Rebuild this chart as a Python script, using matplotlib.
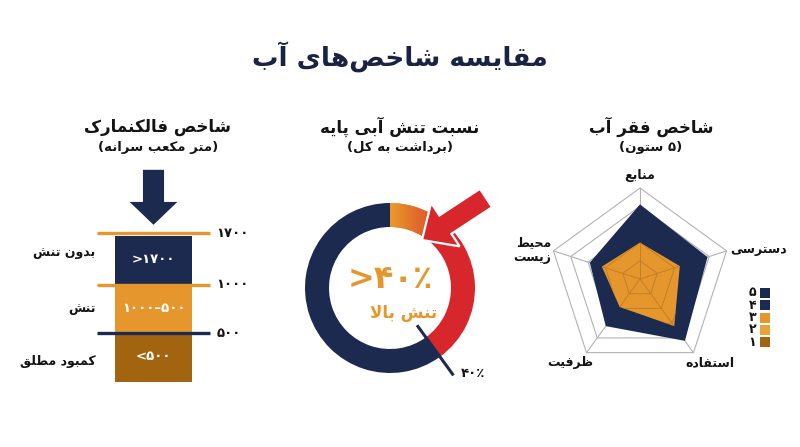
import numpy as np
import matplotlib
matplotlib.use('Agg')
import matplotlib.pyplot as plt
from matplotlib.patches import Polygon, FancyArrow
from matplotlib.colors import LinearSegmentedColormap

plt.rcParams['font.family'] = ['DejaVu Sans']

# ---------------- data ----------------
main_title = 'مقایسه شاخص‌های آب'

falk_title = 'شاخص فالکنمارک'
falk_sub = '(متر مکعب سرانه)'
falk_categories = ['کمبود مطلق', 'تنش', 'بدون تنش']      # bottom -> top
falk_ranges = ['<۵۰۰', '۱۰۰۰–۵۰۰', '>۱۷۰۰']
falk_thresholds = ['۵۰۰', '۱۰۰۰', '۱۷۰۰']

stress_title = 'نسبت تنش آبی پایه'
stress_sub = '(برداشت به کل)'
stress_shares = [9, 31, 60]          # orange, red, navy (percent of ring)
stress_big = '>۴۰٪'
stress_label = 'تنش بالا'
stress_mark = '۴۰٪'

pov_title = 'شاخص فقر آب'
pov_sub = '(۵ ستون)'
pov_axes = ['منابع', 'دسترسی', 'استفاده', 'ظرفیت', 'محیط\nزیست']
pov_outer = [4.1, 3.9, 4.2, 3.2, 2.9]
pov_inner = [2.0, 2.3, 3.2, 1.9, 2.2]
pov_levels = [1, 2, 3, 4, 5]
legend_labels = ['۵', '۴', '۳', '۲', '۱']

# colours
NAVY = '#1d2a4f'
ORANGE = '#e5972e'
BROWN = '#a3640f'
RED = '#d7262c'
INK = '#141414'
falk_colors = [BROWN, ORANGE, NAVY]
falk_line_colors = [NAVY, ORANGE, ORANGE]
legend_colors = [NAVY, NAVY, ORANGE, '#e9a13a', BROWN]

# ---------------- persian shaping (no raqm in mpl 3.10) ----------------
FORMS = {
    'ا': ('\uFE8D', '\uFE8E', None, None),
    'آ': ('\uFE81', '\uFE82', None, None),
    'ب': ('\uFE8F', '\uFE90', '\uFE91', '\uFE92'),
    'پ': ('\uFB56', '\uFB57', '\uFB58', '\uFB59'),
    'ت': ('\uFE95', '\uFE96', '\uFE97', '\uFE98'),
    'ح': ('\uFEA1', '\uFEA2', '\uFEA3', '\uFEA4'),
    'خ': ('\uFEA5', '\uFEA6', '\uFEA7', '\uFEA8'),
    'د': ('\uFEA9', '\uFEAA', None, None),
    'ر': ('\uFEAD', '\uFEAE', None, None),
    'ز': ('\uFEAF', '\uFEB0', None, None),
    'س': ('\uFEB1', '\uFEB2', '\uFEB3', '\uFEB4'),
    'ش': ('\uFEB5', '\uFEB6', '\uFEB7', '\uFEB8'),
    'ص': ('\uFEB9', '\uFEBA', '\uFEBB', '\uFEBC'),
    'ط': ('\uFEC1', '\uFEC2', '\uFEC3', '\uFEC4'),
    'ظ': ('\uFEC5', '\uFEC6', '\uFEC7', '\uFEC8'),
    'ع': ('\uFEC9', '\uFECA', '\uFECB', '\uFECC'),
    'ف': ('\uFED1', '\uFED2', '\uFED3', '\uFED4'),
    'ق': ('\uFED5', '\uFED6', '\uFED7', '\uFED8'),
    'ک': ('\uFB8E', '\uFB8F', '\uFB90', '\uFB91'),
    'ل': ('\uFEDD', '\uFEDE', '\uFEDF', '\uFEE0'),
    'م': ('\uFEE1', '\uFEE2', '\uFEE3', '\uFEE4'),
    'ن': ('\uFEE5', '\uFEE6', '\uFEE7', '\uFEE8'),
    'ه': ('\uFEE9', '\uFEEA', '\uFEEB', '\uFEEC'),
    'و': ('\uFEED', '\uFEEE', None, None),
    'ی': ('\uFBFC', '\uFBFD', '\uFBFE', '\uFBFF'),
}


def joins_next(ch):
    return ch in FORMS and FORMS[ch][2] is not None


def shape_line(line):
    out = []
    i = 0
    n = len(line)
    while i < n:
        ch = line[i]
        prev = line[i - 1] if i > 0 else ''
        nxt = line[i + 1] if i + 1 < n else ''
        if ch == '\u200c':
            i += 1
            continue
        if ch not in FORMS:
            out.append(ch)
            i += 1
            continue
        jp = joins_next(prev)
        if ch == 'ل' and nxt == 'ا':
            out.append('\uFEFC' if jp else '\uFEFB')
            i += 2
            continue
        jn = joins_next(ch) and nxt in FORMS
        iso, fin, ini, med = FORMS[ch]
        if jp and jn:
            out.append(med)
        elif jp:
            out.append(fin)
        elif jn:
            out.append(ini)
        else:
            out.append(iso)
        i += 1
    # visual order, mirror brackets
    vis = ''.join(out)[::-1]
    return vis.translate(str.maketrans('()', ')('))


def fa(text):
    return '\n'.join(shape_line(l) for l in text.split('\n'))


def ftext(fig, x, y, s, **kw):
    # x, y in pixels from the top-left corner of an 800x447 canvas
    fig.text(x / 800, 1 - y / 447, s, **kw)


def add_axes_px(fig, x0, y0, x1, y1):
    return fig.add_axes([x0 / 800, 1 - y1 / 447, (x1 - x0) / 800, (y1 - y0) / 447])


# ---------------- panels ----------------
def falkenmark(fig):
    ax = add_axes_px(fig, 115, 236, 192, 382)
    ax.set_xlim(-0.5, 0.5)
    ax.set_ylim(0, 3)
    ax.axis('off')
    bands = np.arange(len(falk_categories))
    ax.bar(np.zeros(len(bands)), np.ones(len(bands)), bottom=bands, width=1.0,
           color=falk_colors, linewidth=0, zorder=2)

    for b, rng in zip(bands, falk_ranges):
        ax.text(0, b + 0.52, rng, color='white', ha='center', va='center',
                fontsize=9.5, fontweight='bold', zorder=4)

    label_shift = [-0.08, 0.02, 0.16]
    for b, cat, d in zip(bands, falk_categories, label_shift):
        ax.text(-0.75, b + 0.5 + d, fa(cat), color=INK, ha='right', va='center',
                fontsize=9, fontweight='bold')

    for b, th, c in zip(bands, falk_thresholds, falk_line_colors):
        yy = b + 1 + (0.06 if b == bands[-1] else 0)
        ax.plot([-0.734, 0.734], [yy, yy], color=c, lw=2.4, clip_on=False,
                solid_capstyle='butt', zorder=3)
        ax.text(0.82, yy, th, color=INK, ha='left', va='center',
                fontsize=9.5, fontweight='bold')

    # big arrow pointing into the bar
    sw, hw = 0.137, 0.31
    top, base, tip = 4.36, 3.70, 3.23
    arrow = Polygon([(-sw, top), (sw, top), (sw, base), (hw, base), (0, tip),
                     (-hw, base), (-sw, base)], closed=True, fc=NAVY, ec='none',
                    clip_on=False, zorder=3)
    ax.add_patch(arrow)


def stress(fig):
    ax = add_axes_px(fig, 290, 170, 510, 400)
    wedges, _ = ax.pie(stress_shares, colors=[ORANGE, RED, NAVY], radius=85,
                       startangle=90, counterclock=False,
                       wedgeprops=dict(width=24, linewidth=0))
    # orange slice fades into red
    cmap = LinearSegmentedColormap.from_list('o2r', ['#e99b2c', '#e16a2b', '#dc4a2b'])
    grad = np.linspace(0, 1, 200).reshape(1, -1)
    im = ax.imshow(grad, extent=(0, 55, 40, 90), cmap=cmap, aspect='auto',
                   zorder=wedges[0].get_zorder() + 0.1)
    im.set_clip_path(wedges[0])

    # marker at the cumulative share boundary
    ang = 2 * np.pi * (stress_shares[0] + stress_shares[1]) / sum(stress_shares)
    r = np.array([46, 108])
    ax.plot(r * np.sin(ang), r * np.cos(ang), color=NAVY, lw=2.2,
            solid_capstyle='butt', zorder=4)
    ax.text(108 * np.sin(ang) + 7, 108 * np.cos(ang) + 2, stress_mark, color=INK,
            ha='left', va='center', fontsize=9.5, fontweight='bold')

    arr = FancyArrow(96, 90, 32 - 96, 48 - 90, width=22, head_width=52,
                     head_length=28, length_includes_head=True,
                     fc=RED, ec='white', lw=1.6, zorder=5)
    ax.add_patch(arr)

    ax.text(0, 8, stress_big, color=ORANGE, ha='center', va='center',
            fontsize=23, fontweight='bold')
    ax.text(14, -25, fa(stress_label), color=ORANGE, ha='center', va='center',
            fontsize=12, fontweight='bold')

    ax.set_xlim(-100, 120)
    ax.set_ylim(-112, 118)
    ax.set_aspect('auto')
    ax.axis('off')


def poverty(fig):
    ax = add_axes_px(fig, 500, 160, 795, 395)
    ax.set_xlim(-140, 155)
    ax.set_ylim(-116, 119)
    ax.axis('off')

    unit = 91 / max(pov_levels)
    theta = 2 * np.pi * np.arange(len(pov_axes)) / len(pov_axes)
    sx, sy = np.sin(theta), np.cos(theta)

    def ring(vals):
        v = np.asarray(vals) * unit
        return np.column_stack([v * sx, v * sy])

    for lv in pov_levels:
        ax.add_patch(Polygon(ring([lv] * len(pov_axes)), closed=True, fc='none',
                             ec='#b3b3b3', lw=0.8, zorder=1))
    for x, y in zip(sx, sy):
        ax.plot([0, x * 91], [0, y * 91], color='#b3b3b3', lw=0.8, zorder=1)

    ax.add_patch(Polygon(ring(pov_outer), closed=True, fc=NAVY, ec='none', zorder=2))
    inner = Polygon(ring(pov_inner), closed=True, fc=ORANGE, ec='none', zorder=3)
    ax.add_patch(inner)

    # faint web lines visible through the orange area
    for lv in pov_levels:
        p = Polygon(ring([lv] * len(pov_axes)), closed=True, fc='none',
                    ec='#c27f24', lw=0.7, zorder=4)
        ax.add_patch(p)
        p.set_clip_path(inner)
    for x, y in zip(sx, sy):
        ln, = ax.plot([0, x * 91], [0, y * 91], color='#c27f24', lw=0.7, zorder=4)
        ln.set_clip_path(inner)

    # axis labels around the web
    offsets = [(0, 13, 'center'), (4, 1, 'left'), (16, -10, 'center'),
               (-16, -10, 'center'), (-2, 1, 'right')]
    for name, x, y, (dx, dy, ha) in zip(pov_axes, sx, sy, offsets):
        ax.text(x * 91 + dx, y * 91 + dy, fa(name), color=INK, ha=ha,
                va='center', fontsize=9, fontweight='bold', linespacing=1.15)

    # legend: digits to the left of small squares
    ly = -14 - 12.3 * np.arange(len(legend_labels))
    ax.scatter(np.full(len(ly), 125), ly, marker='s', s=52, c=legend_colors,
               linewidths=0, zorder=5)
    for y, lab in zip(ly, legend_labels):
        ax.text(116, y, lab, color=INK, ha='right', va='center',
                fontsize=9, fontweight='bold')


def main():
    fig = plt.figure(figsize=(8, 4.47), dpi=100)
    fig.patch.set_facecolor('white')

    ftext(fig, 400, 57, fa(main_title), ha='center', va='center', fontsize=19,
          fontweight='bold', color='#1b2344')

    for cx, t, s in [(158, falk_title, falk_sub), (400, stress_title, stress_sub),
                     (651, pov_title, pov_sub)]:
        ftext(fig, cx, 127, fa(t), ha='center', va='center', fontsize=12,
              fontweight='bold', color=INK)
        ftext(fig, cx, 148, fa(s), ha='center', va='center', fontsize=9.5,
              fontweight='bold', color=INK)

    falkenmark(fig)
    stress(fig)
    poverty(fig)

    fig.savefig('out.png', dpi=100, facecolor='white')


if __name__ == '__main__':
    main()
